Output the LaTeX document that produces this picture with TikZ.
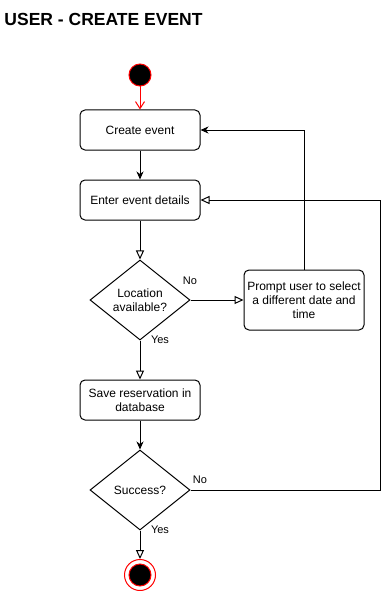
\documentclass[tikz,border=0pt]{standalone}
\usepackage{fontspec}
\setmainfont{Liberation Sans}
\usetikzlibrary{arrows.meta,shapes.geometric}

\begin{document}
\begin{tikzpicture}[
  x=1pt, y=-1pt,
  line width=1pt,
  action/.style={draw, rounded corners=5pt, minimum width=120pt, minimum height=40pt,
    inner sep=0pt, align=center, font=\fontsize{12}{14}\selectfont},
  decision/.style={draw, diamond, minimum width=100pt, minimum height=80pt,
    inner sep=0pt, aspect=1.25, align=center, font=\fontsize{12}{14}\selectfont},
  lbl/.style={font=\fontsize{11}{13}\selectfont, inner sep=1pt},
  solidflow/.style={-{Stealth[length=8pt, width=7pt, inset=2.5pt]}},
  openflow/.style={-{Triangle[open, length=9pt, width=8pt]}},
  startflow/.style={red, -{Straight Barb[length=7pt, width=9pt]}},
]
\useasboundingbox (0,0) rectangle (391,591);

% title
\node[anchor=base west, inner sep=0pt, font=\bfseries\fontsize{17.5}{20}\selectfont]
  (title) at (4,26) {USER - CREATE EVENT};

% initial and final states
\node[circle, draw=red, fill=black, minimum size=22pt, inner sep=0pt] (start) at (140,75) {};
\node[circle, draw=red, minimum size=31pt, inner sep=0pt] (end) at (140,575) {};
\node[circle, draw=red, fill=black, minimum size=22pt, inner sep=0pt] (endDot) at (140,575) {};

% actions
\node[action] (create)  at (140,130) {Create event};
\node[action] (details) at (140,200) {Enter event details};
\node[action, minimum height=60pt] (prompt) at (304,300)
  {Prompt user to select\\a different date and\\time};
\node[action] (save)    at (140,400) {Save reservation in\\database};

% decisions
\node[decision] (loc)     at (140,300) {Location\\available?};
\node[decision] (success) at (140,490) {Success?};

% return point on the right edge
\coordinate (loopR) at (380,200);

% flows
\draw[startflow] (start) -- (create);
\draw[solidflow] (create) -- (details);
\draw[openflow] (details) -- (loc);
\draw[openflow] (loc.east) -- (prompt.west);
\draw[solidflow] (prompt.north) |- (create.east);
\draw[openflow] (loc.south) -- (save.north);
\draw[solidflow] (save) -- (success);
\draw[openflow] (success.east) -| (loopR) -- (details.east);
\draw[openflow] (success.south) -- (end.north);

% guard labels
\node[lbl] (locNo)  at (190,281) {No};
\node[lbl] (locYes) at (160,340) {Yes};
\node[lbl] (sucNo)  at (200,480) {No};
\node[lbl] (sucYes) at (160,530) {Yes};
\end{tikzpicture}
\end{document}
